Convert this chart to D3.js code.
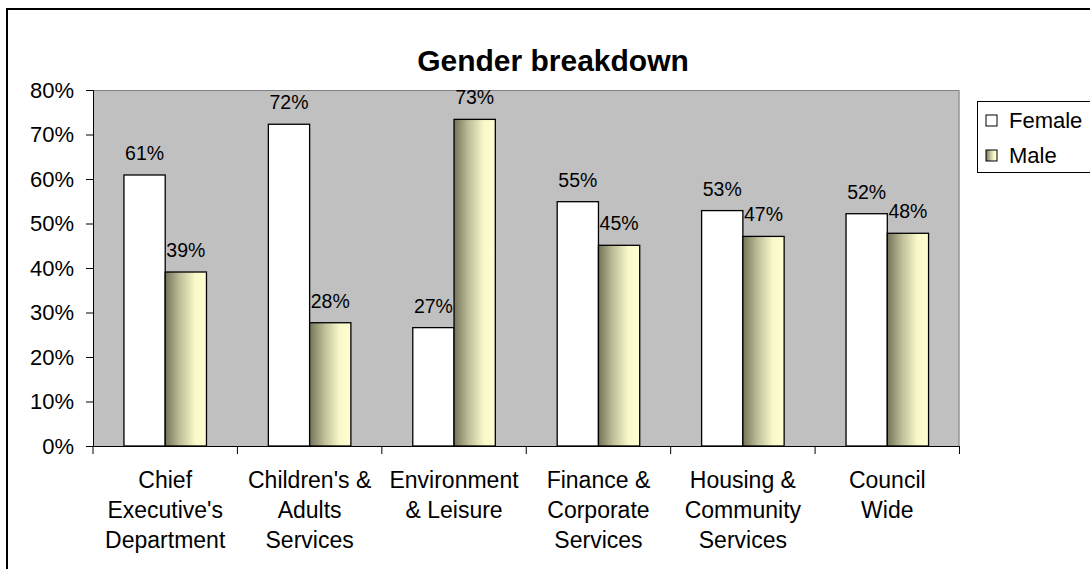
<!DOCTYPE html>
<html>
<head>
<meta charset="utf-8">
<script src="https://cdn.jsdelivr.net/npm/d3@7"></script>
<style>
  html, body { margin: 0; padding: 0; background: #ffffff; }
  svg { display: block; font-family: "Liberation Sans", Arial, Helvetica, sans-serif; }
</style>
</head>
<body>
<svg id="chart" width="1090" height="569"></svg>
<script>
// Staff gender split by department
const categories = [
  ["Chief", "Executive's", "Department"],
  ["Children's &", "Adults", "Services"],
  ["Environment", "& Leisure"],
  ["Finance &", "Corporate", "Services"],
  ["Housing &", "Community", "Services"],
  ["Council", "Wide"]
];
const seriesNames = ["Female", "Male"];
const female = [0.609, 0.723, 0.266, 0.549, 0.529, 0.522];
const male   = [0.391, 0.277, 0.734, 0.451, 0.471, 0.478];
const yTicks = [0, 0.1, 0.2, 0.3, 0.4, 0.5, 0.6, 0.7, 0.8];
const chartTitle = "Gender breakdown";

const svg = d3.select("#chart");
const plot = { left: 93, right: 959.5, top: 90, bottom: 446 };

// Male bar fill: dark olive on the left fading to pale yellow
const defs = svg.append("defs");
const grad = defs.append("linearGradient")
  .attr("id", "maleFill").attr("x1", "0%").attr("x2", "100%").attr("y1", "0%").attr("y2", "0%");
grad.append("stop").attr("offset", "0%").attr("stop-color", "#74745a");
grad.append("stop").attr("offset", "35%").attr("stop-color", "#bdbd98");
grad.append("stop").attr("offset", "72%").attr("stop-color", "#f8f8c8");
grad.append("stop").attr("offset", "100%").attr("stop-color", "#ffffd2");

// Outer chart frame
svg.append("rect")
  .attr("x", 7).attr("y", 9).attr("width", 1092).attr("height", 600)
  .attr("fill", "#ffffff").attr("stroke", "#000000").attr("stroke-width", 2);

// Title
svg.append("text")
  .attr("x", 553).attr("y", 71)
  .attr("text-anchor", "middle")
  .attr("font-size", 30).attr("font-weight", "bold")
  .attr("fill", "#000")
  .text(chartTitle);

const keys = categories.map((c, i) => i);
const x0 = d3.scaleBand().domain(keys).range([plot.left, plot.right]).paddingInner(0).paddingOuter(0);
const x1 = d3.scaleBand().domain(seriesNames).range([0, x0.bandwidth()]).paddingInner(0).paddingOuter(0.75);
const y = d3.scaleLinear().domain([0, 0.8]).range([plot.bottom, plot.top]);

// Plot area background
svg.append("rect")
  .attr("x", plot.left).attr("y", plot.top)
  .attr("width", plot.right - plot.left).attr("height", plot.bottom - plot.top)
  .attr("fill", "#c0c0c0");
svg.append("path")
  .attr("d", `M${plot.left},${plot.top + 0.5}H${plot.right - 0.5}V${plot.bottom}`)
  .attr("fill", "none").attr("stroke", "#808080").attr("stroke-width", 1);

// Bars
const rows = keys.map(i => [
  { cat: i, name: "Female", value: female[i] },
  { cat: i, name: "Male", value: male[i] }
]);
const groups = svg.append("g").selectAll("g").data(rows).join("g")
  .attr("transform", d => `translate(${x0(d[0].cat)},0)`);
groups.selectAll("rect").data(d => d).join("rect")
  .attr("x", d => x1(d.name))
  .attr("y", d => y(d.value))
  .attr("width", x1.bandwidth())
  .attr("height", d => y(0) - y(d.value))
  .attr("fill", d => d.name === "Female" ? "#ffffff" : "url(#maleFill)")
  .attr("stroke", "#000").attr("stroke-width", 1.3);

// Value labels
const pct = d3.format(".0%");
groups.selectAll("text").data(d => d).join("text")
  .attr("x", d => x1(d.name) + x1.bandwidth() / 2)
  .attr("y", d => y(d.value) - 15)
  .attr("text-anchor", "middle")
  .attr("font-size", 19.5).attr("fill", "#000")
  .text(d => pct(d.value));

// Y axis
const yAxis = svg.append("g")
  .attr("transform", `translate(${plot.left},0)`)
  .call(d3.axisLeft(y).tickValues(yTicks).tickFormat(pct).tickSize(7).tickPadding(12));
yAxis.select(".domain").attr("stroke", "#000");
yAxis.selectAll(".tick line").attr("stroke", "#000");
yAxis.selectAll(".tick text").attr("font-size", 22).attr("fill", "#000")
  .attr("font-family", "'Liberation Sans', Arial, sans-serif");

// X axis: ticks at category boundaries
const xAxis = svg.append("g").attr("transform", `translate(0,${plot.bottom})`);
xAxis.append("line")
  .attr("x1", plot.left).attr("x2", plot.right).attr("y1", 0.5).attr("y2", 0.5)
  .attr("stroke", "#000");
const bounds = keys.map(i => x0(i)).concat([plot.right]);
xAxis.selectAll("line.tick").data(bounds).join("line")
  .attr("class", "tick")
  .attr("x1", d => d).attr("x2", d => d).attr("y1", 0).attr("y2", 8)
  .attr("stroke", "#000");
const catLabels = xAxis.selectAll("text").data(keys).join("text")
  .attr("x", i => x0(i) + x0.bandwidth() / 2)
  .attr("text-anchor", "middle")
  .attr("font-size", 23).attr("fill", "#000");
catLabels.selectAll("tspan").data(i => categories[i].map((t, k) => ({ t, k, i }))).join("tspan")
  .attr("x", d => x0(d.i) + x0.bandwidth() / 2)
  .attr("y", d => 42 + d.k * 30)
  .text(d => d.t);

// Legend
const legend = svg.append("g").attr("transform", "translate(977,101)");
legend.append("rect")
  .attr("x", 0.5).attr("y", 0.5).attr("width", 140).attr("height", 71)
  .attr("fill", "#ffffff").attr("stroke", "#000").attr("stroke-width", 1);
const items = legend.selectAll("g").data(seriesNames).join("g")
  .attr("transform", (d, i) => `translate(9,${14 + i * 35})`);
items.append("rect")
  .attr("width", 11).attr("height", 11)
  .attr("fill", d => d === "Female" ? "#ffffff" : "url(#maleFill)")
  .attr("stroke", "#000").attr("stroke-width", 1);
items.append("text")
  .attr("x", 23).attr("y", 13)
  .attr("font-size", 22).attr("fill", "#000")
  .text(d => d);
</script>
</body>
</html>
